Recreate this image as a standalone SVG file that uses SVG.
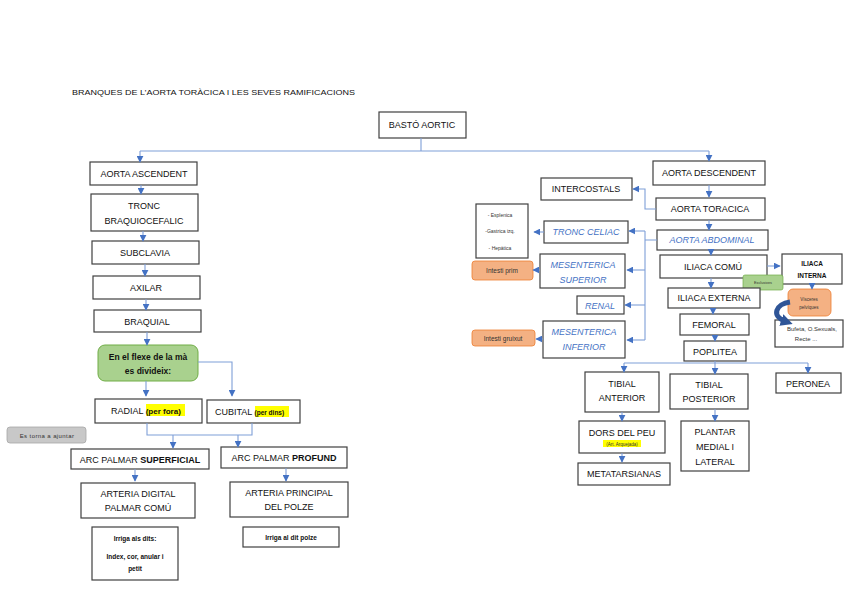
<svg xmlns="http://www.w3.org/2000/svg" width="848" height="599" viewBox="0 0 848 599">
<defs>
<marker id="ah" viewBox="0 0 10 10" refX="9" refY="5" markerWidth="7" markerHeight="7" markerUnits="userSpaceOnUse" orient="auto">
<path d="M0,0 L10,5 L0,10 z" fill="#4472c4"/>
</marker>
<marker id="bh" viewBox="0 0 10 10" refX="5" refY="5" markerWidth="12" markerHeight="12" markerUnits="userSpaceOnUse" orient="auto">
<path d="M0,0 L10,5 L0,10 z" fill="#2f5597"/>
</marker>
<style>
.b{fill:#fff;stroke:#404040;stroke-width:1.2}
.t{font-family:"Liberation Sans",Arial,sans-serif;font-size:9px;fill:#111;text-anchor:middle}
.it{font-family:"Liberation Sans",Arial,sans-serif;font-size:9px;fill:#4472c4;font-style:italic;text-anchor:middle}
.s{font-family:"Liberation Sans",Arial,sans-serif;font-size:6.5px;fill:#111;text-anchor:middle}
.xs{font-family:"Liberation Sans",Arial,sans-serif;font-size:4.5px;fill:#333;text-anchor:middle}
.c{fill:none;stroke:#7f9fd8;stroke-width:1.1}
.a{fill:none;stroke:#7f9fd8;stroke-width:1.1;marker-end:url(#ah)}
.hl{fill:#ffff00}
.or{fill:#f4b183;stroke:#ed7d31;stroke-width:0.8}
</style>
</defs>
<rect width="848" height="599" fill="#fff"/>
<text x="72" y="95" font-family="Liberation Sans,Arial,sans-serif" font-size="8" fill="#111" textLength="283" lengthAdjust="spacingAndGlyphs">BRANQUES DE L’AORTA TORÀCICA I LES SEVES RAMIFICACIONS</text>

<g id="basto"><rect class="b" x="379" y="112" width="87" height="26"/><text class="t" x="422" y="128">BASTÓ AORTIC</text></g>
<g id="aorta-ascendent"><rect class="b" x="90" y="162" width="107" height="23"/><text class="t" x="144" y="177">AORTA ASCENDENT</text></g>
<g id="tronc-braquiocefalic"><rect class="b" x="91" y="194" width="107" height="37"/><text class="t" x="144" y="209">TRONC</text><text class="t" x="144" y="224">BRAQUIOCEFALIC</text></g>
<g id="subclavia"><rect class="b" x="92" y="241" width="107" height="23"/><text class="t" x="145" y="256">SUBCLAVIA</text></g>
<g id="axilar"><rect class="b" x="93" y="276" width="107" height="23"/><text class="t" x="146" y="291">AXILAR</text></g>
<g id="braquial"><rect class="b" x="94" y="310" width="107" height="22"/><text class="t" x="147" y="325">BRAQUIAL</text></g>
<g id="flexe"><rect x="98" y="345" width="100" height="36" rx="7" fill="#a9d18e" stroke="#70ad47" stroke-width="1"/><text class="s" x="148" y="360" font-weight="bold" style="font-size:8.5px">En el flexe de la mà</text><text class="s" x="148" y="374" font-weight="bold" style="font-size:8.5px">es divideix:</text></g>
<g id="radial"><rect class="b" x="95" y="399" width="107" height="24"/><rect class="hl" x="146" y="404" width="39" height="12"/><text class="t" x="111" y="414" style="text-anchor:start">RADIAL <tspan font-weight="bold" style="font-size:8px">(per fora)</tspan></text></g>
<g id="cubital"><rect class="b" x="207" y="400" width="93" height="23"/><rect class="hl" x="255" y="406" width="34" height="11"/><text class="t" x="215" y="415" style="text-anchor:start">CUBITAL <tspan font-weight="bold" style="font-size:6.5px">(per dins)</tspan></text></g>
<g id="ajuntar"><rect x="7" y="427" width="79" height="16" rx="3" fill="#c8c8c8" stroke="#a6a6a6" stroke-width="0.8"/><text class="xs" x="47" y="437.5" style="font-size:6px;letter-spacing:0.4px">Es torna a ajuntar</text></g>
<g id="arc-superficial"><rect class="b" x="71" y="449" width="138" height="20"/><text class="t" x="140" y="463">ARC PALMAR <tspan font-weight="bold">SUPERFICIAL</tspan></text></g>
<g id="arc-profund"><rect class="b" x="221" y="447" width="126" height="21"/><text class="t" x="284" y="461">ARC PALMAR <tspan font-weight="bold">PROFUND</tspan></text></g>
<g id="digital"><rect class="b" x="81" y="483" width="114" height="35"/><text class="t" x="138" y="497">ARTERIA DIGITAL</text><text class="t" x="138" y="511">PALMAR COMÚ</text></g>
<g id="principal"><rect class="b" x="230" y="482" width="118" height="35"/><text class="t" x="289" y="496">ARTERIA PRINCIPAL</text><text class="t" x="289" y="510">DEL POLZE</text></g>
<g id="irriga-dits"><rect class="b" x="92" y="527" width="86" height="53"/><text class="s" x="135" y="541" font-weight="bold">Irriga als dits:</text><text class="s" x="135" y="559" font-weight="bold">Index, cor, anular i</text><text class="s" x="135" y="571" font-weight="bold">petit</text></g>
<g id="irriga-polze"><rect class="b" x="243" y="527" width="96" height="20"/><text class="s" x="291" y="539.5" font-weight="bold">Irriga al dit polze</text></g>

<g id="aorta-descendent"><rect class="b" x="653" y="161" width="112" height="24"/><text class="t" x="709" y="176">AORTA DESCENDENT</text></g>
<g id="aorta-toracica"><rect class="b" x="656" y="198" width="109" height="22"/><text class="t" x="710" y="212">AORTA TORACICA</text></g>
<g id="intercostals"><rect class="b" x="541" y="178" width="91" height="22"/><text class="t" x="586" y="192">INTERCOSTALS</text></g>
<g id="aorta-abdominal"><rect class="b" x="657" y="230" width="111" height="20"/><text class="it" x="712" y="243">AORTA ABDOMINAL</text></g>
<g id="tronc-celiac"><rect class="b" x="544" y="221" width="84" height="22"/><text class="it" x="586" y="235">TRONC CELIAC</text></g>
<g id="branques-celiac"><rect class="b" x="476" y="204" width="52" height="54"/><text class="xs" x="500" y="217" style="font-size:5px">- Esplenica</text><text class="xs" x="500" y="233" style="font-size:5px">-Gastrica izq.</text><text class="xs" x="500" y="250" style="font-size:5px">- Hepàtica</text></g>
<g id="mes-sup"><rect class="b" x="540" y="254" width="85" height="34"/><text class="it" x="583" y="268">MESENTERICA</text><text class="it" x="583" y="283">SUPERIOR</text></g>
<g id="intesti-prim"><rect class="or" x="472" y="261" width="61" height="19" rx="3"/><text class="xs" x="502" y="273" style="font-size:6.5px">Intesti prim</text></g>
<g id="renal"><rect class="b" x="577" y="296" width="47" height="18"/><text class="it" x="600" y="309">RENAL</text></g>
<g id="mes-inf"><rect class="b" x="543" y="321" width="82" height="37"/><text class="it" x="584" y="335">MESENTERICA</text><text class="it" x="584" y="350">INFERIOR</text></g>
<g id="intesti-gruixut"><rect class="or" x="472" y="330" width="63" height="16" rx="3"/><text class="xs" x="503" y="340.5" style="font-size:6.5px">Intesti gruixut</text></g>
<g id="iliaca-comu"><rect class="b" x="660" y="255" width="107" height="23"/><text class="t" x="713" y="270">ILIACA COMÚ</text></g>
<g id="iliaca-interna"><rect class="b" x="782" y="254" width="60" height="30"/><text class="s" x="812" y="266" font-weight="bold">ILIACA</text><text class="s" x="812" y="278" font-weight="bold">INTERNA</text></g>
<g id="exclusives"><rect x="743" y="275" width="40" height="15" rx="2" fill="#a9d18e" stroke="#70ad47" stroke-width="0.7"/><text class="xs" x="763" y="284" style="font-size:3.8px">Exclusives</text></g>
<g id="iliaca-externa"><rect class="b" x="668" y="288" width="92" height="20"/><text class="t" x="714" y="301">ILIACA EXTERNA</text></g>
<g id="visceres"><rect class="or" x="788" y="289" width="43" height="27" rx="5"/><text class="xs" x="809" y="301" style="font-size:4.5px">Vísceres</text><text class="xs" x="809" y="309" style="font-size:4.5px">pelvíques</text></g>
<g id="bufeta"><rect class="b" x="775" y="320" width="68" height="27"/><text class="xs" x="812" y="331" style="font-size:6px">Bufeta, O.Sexuals,</text><text class="xs" x="806" y="341" style="font-size:6px">Recte ...</text></g>
<g id="femoral"><rect class="b" x="680" y="314" width="69" height="21"/><text class="t" x="714" y="328">FEMORAL</text></g>
<g id="poplitea"><rect class="b" x="684" y="341" width="62" height="20"/><text class="t" x="715" y="355">POPLITEA</text></g>
<g id="tibial-anterior"><rect class="b" x="585" y="372" width="74" height="40"/><text class="t" x="622" y="387">TIBIAL</text><text class="t" x="622" y="401">ANTERIOR</text></g>
<g id="tibial-posterior"><rect class="b" x="670" y="374" width="78" height="35"/><text class="t" x="709" y="388">TIBIAL</text><text class="t" x="709" y="402">POSTERIOR</text></g>
<g id="peronea"><rect class="b" x="776" y="373" width="65" height="20"/><text class="t" x="808" y="387">PERONEA</text></g>
<g id="dors-peu"><rect class="b" x="579" y="421" width="86" height="32"/><text class="t" x="622" y="436">DORS DEL PEU</text><rect class="hl" x="603" y="440" width="38" height="7"/><text class="xs" x="622" y="445.5">(Art. Arquejada)</text></g>
<g id="metatarsianas"><rect class="b" x="578" y="463" width="92" height="22"/><text class="t" x="624" y="477">METATARSIANAS</text></g>
<g id="plantar"><rect class="b" x="681" y="421" width="68" height="50"/><text class="t" x="715" y="435">PLANTAR</text><text class="t" x="715" y="450">MEDIAL I</text><text class="t" x="715" y="465">LATERAL</text></g>

<g id="connectors">
<path class="c" d="M421,138 V151 M140,151 H709"/>
<path class="a" d="M140,151 V162"/>
<path class="a" d="M709,151 V161"/>
<path class="a" d="M141,185 V194"/>
<path class="a" d="M143,231 V241"/>
<path class="a" d="M145,264 V276"/>
<path class="a" d="M146,299 V310"/>
<path class="a" d="M147,332 V345"/>
<path class="a" d="M146,381 V396"/>
<path class="a" d="M198,362 H232 V396"/>
<path class="c" d="M147,423 V435 H252 V423"/>
<path class="a" d="M173,435 V448"/>
<path class="a" d="M238,435 V447"/>
<path class="a" d="M135,469 V481"/>
<path class="a" d="M286,468 V481"/>
<path class="a" d="M709,185 V197"/>
<path class="a" d="M656,209 H645 V189 H633"/>
<path class="a" d="M709,220 V230"/>
<path class="c" d="M657,240 H645 M645,231 V340"/>
<path class="a" d="M645,231 H629"/>
<path class="a" d="M645,270 H627"/>
<path class="a" d="M645,305 H625"/>
<path class="a" d="M645,340 H627"/>
<path class="a" d="M544,232 H534"/>
<path class="a" d="M540,270 H533"/>
<path class="a" d="M543,339 H536"/>
<path class="a" d="M711,250 V255"/>
<path class="a" d="M767,266 H780"/>
<path class="a" d="M711,278 V288"/>
<path class="a" d="M812,284 V289"/>
<path class="a" d="M713,308 V314"/>
<path class="a" d="M715,335 V341"/>
<path class="c" d="M715,361 V363 M624,363 H808"/>
<path class="a" d="M624,363 V372"/>
<path class="a" d="M715,363 V374"/>
<path class="a" d="M808,363 V373"/>
<path class="a" d="M622,412 V421"/>
<path class="a" d="M622,453 V462"/>
<path class="a" d="M715,409 V421"/>
<path d="M790,302 C776,304 770,316 787,322" fill="none" stroke="#2f5597" stroke-width="5" marker-end="url(#bh)"/>
</g>
</svg>
